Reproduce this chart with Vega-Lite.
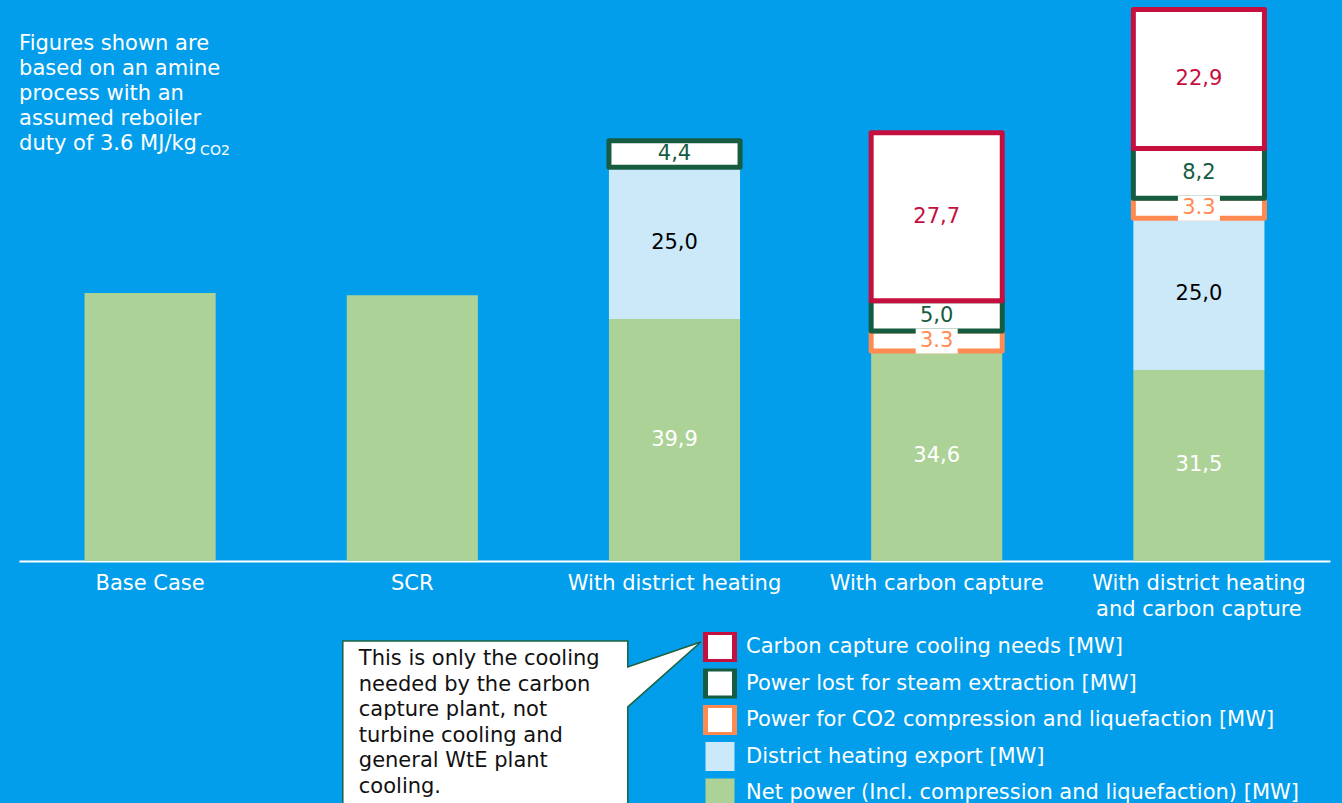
{
  "$schema": "https://vega.github.io/schema/vega-lite/v6.json",
  "width": 1311,
  "height": 552,
  "autosize": {"type": "none"},
  "padding": {"left": 19, "top": 9, "right": 12, "bottom": 242},
  "background": "#029EEB",
  "config": {"view": {"stroke": null}, "font": "DejaVu Sans"},
  "datasets": {
    "power": [
      {"scenario": "Base Case", "series": "Net power (Incl. compression and liquefaction) [MW]", "level": 1, "value": 44.2, "label": ""},
      {"scenario": "SCR", "series": "Net power (Incl. compression and liquefaction) [MW]", "level": 1, "value": 43.8, "label": ""},
      {"scenario": "With district heating", "series": "Net power (Incl. compression and liquefaction) [MW]", "level": 1, "value": 39.9, "label": "39,9"},
      {"scenario": "With district heating", "series": "District heating export [MW]", "level": 2, "value": 25.0, "label": "25,0"},
      {"scenario": "With district heating", "series": "Power lost for steam extraction [MW]", "level": 4, "value": 4.4, "label": "4,4"},
      {"scenario": "With carbon capture", "series": "Net power (Incl. compression and liquefaction) [MW]", "level": 1, "value": 34.6, "label": "34,6"},
      {"scenario": "With carbon capture", "series": "Power for CO2 compression and liquefaction [MW]", "level": 3, "value": 3.3, "label": "3.3"},
      {"scenario": "With carbon capture", "series": "Power lost for steam extraction [MW]", "level": 4, "value": 5.0, "label": "5,0"},
      {"scenario": "With carbon capture", "series": "Carbon capture cooling needs [MW]", "level": 5, "value": 27.7, "label": "27,7"},
      {"scenario": "With district heating and carbon capture", "series": "Net power (Incl. compression and liquefaction) [MW]", "level": 1, "value": 31.5, "label": "31,5"},
      {"scenario": "With district heating and carbon capture", "series": "District heating export [MW]", "level": 2, "value": 25.0, "label": "25,0"},
      {"scenario": "With district heating and carbon capture", "series": "Power for CO2 compression and liquefaction [MW]", "level": 3, "value": 3.3, "label": "3.3"},
      {"scenario": "With district heating and carbon capture", "series": "Power lost for steam extraction [MW]", "level": 4, "value": 8.2, "label": "8,2"},
      {"scenario": "With district heating and carbon capture", "series": "Carbon capture cooling needs [MW]", "level": 5, "value": 22.9, "label": "22,9"}
    ]
  },
  "layer": [
    {
      "data": {"name": "power"},
      "mark": {"type": "bar", "strokeWidth": 5, "strokeJoin": "round", "fillOpacity": 1},
      "encoding": {
        "x": {
          "field": "scenario",
          "type": "nominal",
          "sort": null,
          "scale": {
            "domain": ["Base Case", "SCR", "With district heating", "With carbon capture", "With district heating and carbon capture"],
            "paddingInner": 0.5,
            "paddingOuter": 0.25
          },
          "axis": {
            "title": null,
            "domainColor": "white",
            "domainWidth": 2,
            "ticks": false,
            "labelColor": "white",
            "labelFont": "DejaVu Sans",
            "labelFontSize": 21,
            "labelAngle": 0,
            "labelPadding": 11,
            "labelLineHeight": 26,
            "labelLimit": 0,
            "labelExpr": "datum.value == 'With district heating and carbon capture' ? ['With district heating', 'and carbon capture'] : datum.label"
          }
        },
        "y": {
          "field": "value",
          "type": "quantitative",
          "stack": "zero",
          "scale": {"domain": [0, 91], "nice": false, "zero": true},
          "axis": null
        },
        "order": {"field": "level", "type": "quantitative"},
        "fill": {
          "field": "series",
          "type": "nominal",
          "scale": {
            "domain": ["Carbon capture cooling needs [MW]", "Power lost for steam extraction [MW]", "Power for CO2 compression and liquefaction [MW]", "District heating export [MW]", "Net power (Incl. compression and liquefaction) [MW]"],
            "range": ["#FFFFFF", "#FFFFFF", "#FFFFFF", "#CCE9FA", "#ADD298"]
          },
          "legend": {
            "title": null,
            "orient": "none",
            "legendX": 684,
            "legendY": 623,
            "padding": 0,
            "symbolType": "square",
            "symbolSize": 841,
            "symbolStrokeWidth": 5,
            "symbolOpacity": 1,
            "labelColor": "white",
            "labelFont": "DejaVu Sans",
            "labelFontSize": 21,
            "labelLimit": 800,
            "labelOffset": 9,
            "clipHeight": 30,
            "rowPadding": 6.5
          }
        },
        "stroke": {
          "field": "series",
          "type": "nominal",
          "scale": {
            "domain": ["Carbon capture cooling needs [MW]", "Power lost for steam extraction [MW]", "Power for CO2 compression and liquefaction [MW]", "District heating export [MW]", "Net power (Incl. compression and liquefaction) [MW]"],
            "range": ["#C50F3F", "#155C40", "#FF8A52", "transparent", "transparent"]
          },
          "legend": {
            "title": null,
            "orient": "none",
            "legendX": 684,
            "legendY": 623,
            "padding": 0,
            "symbolType": "square",
            "symbolSize": 841,
            "symbolStrokeWidth": 5,
            "symbolOpacity": 1,
            "labelColor": "white",
            "labelFont": "DejaVu Sans",
            "labelFontSize": 21,
            "labelLimit": 800,
            "labelOffset": 9,
            "clipHeight": 30,
            "rowPadding": 6.5
          }
        }
      }
    },
    {
      "data": {"name": "power"},
      "mark": {"type": "point", "shape": "M-21,-12.5H21V12.5H-21Z", "size": 4, "filled": true, "color": "white", "strokeWidth": 0},
      "encoding": {
        "x": {"field": "scenario", "type": "nominal", "sort": null},
        "y": {"field": "value", "type": "quantitative", "stack": "zero", "bandPosition": 0.5},
        "order": {"field": "level", "type": "quantitative"},
        "opacity": {
          "condition": {"test": "datum.series == 'Power for CO2 compression and liquefaction [MW]'", "value": 1},
          "value": 0
        }
      }
    },
    {
      "data": {"name": "power"},
      "mark": {"type": "text", "font": "DejaVu Sans", "fontSize": 21, "baseline": "middle"},
      "encoding": {
        "x": {"field": "scenario", "type": "nominal", "sort": null},
        "y": {"field": "value", "type": "quantitative", "stack": "zero", "bandPosition": 0.5},
        "order": {"field": "level", "type": "quantitative"},
        "text": {"field": "label", "type": "nominal"},
        "color": {
          "field": "series",
          "type": "nominal",
          "scale": {
            "domain": ["Carbon capture cooling needs [MW]", "Power lost for steam extraction [MW]", "Power for CO2 compression and liquefaction [MW]", "District heating export [MW]", "Net power (Incl. compression and liquefaction) [MW]"],
            "range": ["#C50F3F", "#155C40", "#FF8A52", "#000000", "#FFFFFF"]
          },
          "legend": null
        }
      }
    },
    {
      "data": {"values": [{"note": ["Figures shown are", "based on an amine", "process with an", "assumed reboiler", "duty of 3.6 MJ/kg"]}]},
      "mark": {"type": "text", "font": "DejaVu Sans", "fontSize": 21, "color": "white", "align": "left", "baseline": "alphabetic", "lineHeight": 25.2, "dx": -131},
      "encoding": {
        "x": {"datum": "Base Case"},
        "y": {"datum": 84.32},
        "text": {"field": "note"}
      }
    },
    {
      "data": {"values": [{"note": "CO2"}]},
      "mark": {"type": "text", "font": "DejaVu Sans", "fontSize": 14, "color": "white", "align": "left", "baseline": "alphabetic", "dx": 50},
      "encoding": {
        "x": {"datum": "Base Case"},
        "y": {"datum": 66.93},
        "text": {"field": "note"}
      }
    },
    {
      "data": {"values": [{"note": "callout"}]},
      "mark": {"type": "point", "shape": "M-69.5,1.1H215.5V27.1L288.5,2.1L215.5,67.1V175H-69.5Z", "size": 4, "filled": true, "fill": "white", "opacity": 1, "stroke": "#1E6040", "strokeWidth": 1.5},
      "encoding": {
        "x": {"datum": "SCR"},
        "y": {"datum": -13}
      }
    },
    {
      "data": {"values": [{"note": ["This is only the cooling", "needed by the carbon", "capture plant, not", "turbine cooling and", "general WtE plant", "cooling."]}]},
      "mark": {"type": "text", "font": "DejaVu Sans", "fontSize": 21, "color": "#111111", "align": "left", "baseline": "alphabetic", "lineHeight": 25.6, "dx": -53.5},
      "encoding": {
        "x": {"datum": "SCR"},
        "y": {"datum": -17.145},
        "text": {"field": "note"}
      }
    }
  ]
}
